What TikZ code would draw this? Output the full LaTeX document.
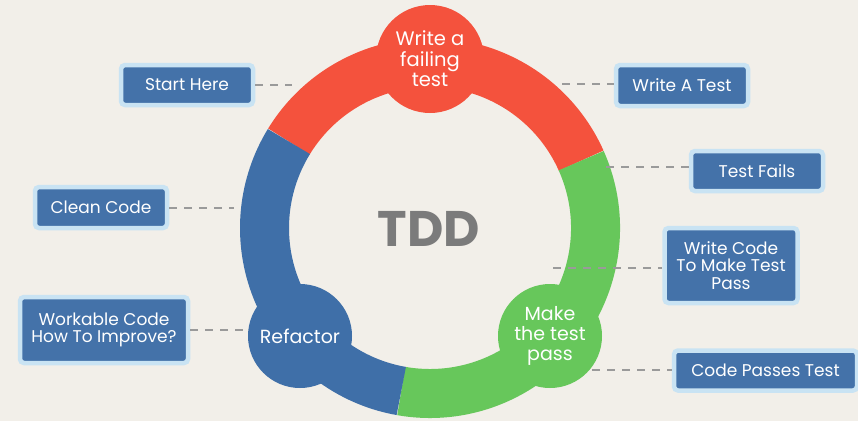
\documentclass[tikz,border=0pt]{standalone}
\usepackage{fontspec}
\setmainfont{Poppins}
\usetikzlibrary{positioning}

\definecolor{bgcol}{HTML}{F2EFE9}
\definecolor{ringred}{HTML}{F4523D}
\definecolor{ringblue}{HTML}{3F6FA8}
\definecolor{ringgreen}{HTML}{67C75B}
\definecolor{boxblue}{HTML}{4472A9}
\definecolor{boxedge}{HTML}{C9E3F3}
\definecolor{dashgray}{HTML}{9A9A9A}
\definecolor{tddgray}{HTML}{7B7B7B}

\begin{document}
\begin{tikzpicture}[
  x=1pt, y=-1pt,
  box/.style={draw=boxedge, line width=4.5pt, fill=boxblue, rounded corners=4pt, text=white,
    align=center, inner sep=0pt, font=\fontsize{17}{17.5}\selectfont},
  stage/.style={circle, fill=#1, text=white, inner sep=0pt, align=center,
    font=\fontsize{19.5}{20.5}\selectfont},
  link/.style={draw=dashgray, line width=1.2pt, dash pattern=on 8pt off 7pt},
  ring/.style={line width=49pt}
]
\useasboundingbox[fill=bgcol] (0,0) rectangle (858,421);

% the cycle
\coordinate (hub) at (430,228);
\draw[ring, ringred] (hub) ++(-148.5:165.5) arc[start angle=-148.5, end angle=-24, radius=165.5];
\draw[ring, ringgreen] (hub) ++(-24:165.5) arc[start angle=-24, end angle=100, radius=165.5];
\draw[ring, ringblue] (hub) ++(100:165.5) arc[start angle=100, end angle=211.5, radius=165.5];

\node[stage=ringred, minimum size=108pt] (fail) at (430,59) {Write a\\failing\\test};
\node[stage=ringblue, minimum size=104pt, font=\fontsize{19}{20.5}\selectfont] (refactor) at (300,336) {Refactor};
\node[stage=ringgreen, minimum size=104pt, font=\fontsize{19}{20}\selectfont] (pass) at (550,336) {Make\\the test\\pass};

\node[text=tddgray, font=\fontsize{50}{50}\selectfont\bfseries] (tdd) at (429,229) {TDD};

% notes
\node[box, minimum width=132pt, minimum height=40pt] (start) at (187,85) {Start Here};
\node[box, minimum width=132pt, minimum height=41pt] (writetest) at (682,85.5) {Write A Test};
\node[box, minimum width=132pt, minimum height=40pt] (fails) at (757,171) {Test Fails};
\node[box, minimum width=132pt, minimum height=41pt] (clean) at (101,207.5) {Clean Code};
\node[box, minimum width=168pt, minimum height=66pt] (improve) at (104,330) {Workable Code\\How To Improve?};
\node[box, minimum width=133pt, minimum height=75pt] (writecode) at (731,265.5) {Write Code\\To Make Test\\Pass};
\node[box, minimum width=183pt, minimum height=40pt] (passes) at (765.5,370.5) {Code Passes Test};

% dashed leaders
\coordinate (startend) at (292,85);
\coordinate (writetestend) at (562,84);
\coordinate (failsend) at (606,167);
\coordinate (cleanend) at (234,208);
\coordinate (improveend) at (250,330);
\coordinate (writecodeend) at (553,268);
\coordinate (passesend) at (592,370);

\draw[link] (start.east |- startend) -- (startend);
\draw[link] (writetestend) -- (writetest.west |- writetestend);
\draw[link] (failsend) -- (fails.west |- failsend);
\draw[link] (clean.east |- cleanend) -- (cleanend);
\draw[link] (improve.east |- improveend) -- (improveend);
\draw[link] (writecodeend) -- (writecode.west |- writecodeend);
\draw[link] (passesend) -- (passes.west |- passesend);
\end{tikzpicture}
\end{document}
